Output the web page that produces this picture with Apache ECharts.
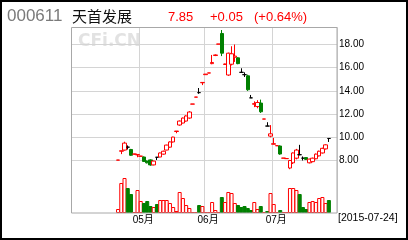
<!DOCTYPE html>
<html><head><meta charset="utf-8">
<script src="https://cdn.jsdelivr.net/npm/echarts@6/dist/echarts.min.js"></script>
<style>html,body{margin:0;padding:0;background:#fff}#c{width:408px;height:240px}</style>
</head><body><div id="c"></div>
<script>
// trading days shown on the axis (last two of July are empty padding slots)
const aprDays = [1,2,3,7,8,9,10,13,14,15,16,17,20,21,22,23,24,27,28,29,30];
const mayDays = [4,5,6,7,8,11,12,13,14,15,18,19,20,21,22,25,26,27,28,29];
const junDays = [1,2,3,4,5,8,9,10,11,12,15,16,17,18,19,23,24,25,26,29,30];
const julDays = [1,2,3,6,7,8,9,10,13,14,15,16,17,20,21,22,23,24,27,28];
const firstDataDate = '2015-04-22';

const openP = [8.03,8.80,8.90,9.15,8.95,8.55,8.48,8.36,8.30,7.95,
  8.05,7.62,8.28,8.30,8.55,8.90,9.15,9.60,10.50,11.06,
  11.23,11.40,11.66,12.86,13.46,13.85,14.70,15.40,15.54,16.35,
  17.05,18.03,18.95,16.28,15.37,16.30,16.90,16.85,15.60,15.40,
  15.30,13.40,12.85,12.65,12.95,11.57,10.97,10.10,9.40,9.27,
  9.25,8.20,8.16,7.35,7.80,8.20,8.50,8.20,8.25,7.80,
  7.90,8.15,8.40,8.65,9.00,9.90];
const closeP = [8.04,8.84,9.50,9.15,8.45,8.56,8.52,8.38,7.92,7.80,
  7.62,7.95,8.28,8.65,8.80,9.33,9.60,10.02,10.54,11.40,
  11.66,11.84,12.18,12.87,13.47,13.85,14.73,15.45,15.55,16.45,
  17.10,18.04,17.25,16.32,17.25,17.20,17.00,16.35,15.60,15.40,
  14.10,13.40,12.90,13.00,12.20,11.58,10.97,10.30,9.45,9.28,
  8.56,8.21,8.17,8.00,8.65,8.90,8.50,8.20,8.10,8.12,
  8.20,8.55,8.80,9.05,9.35,9.90];
const lowP = [8.03,8.55,8.85,8.95,8.40,8.50,8.28,8.34,7.88,7.75,
  7.55,7.58,8.04,8.28,8.50,8.88,9.10,9.55,10.35,11.00,
  11.20,11.35,11.60,12.86,13.46,13.75,14.50,15.40,15.54,16.30,
  17.00,18.03,17.00,16.25,15.30,16.20,16.50,16.30,15.60,15.20,
  14.00,13.40,12.60,12.50,12.10,11.57,10.97,10.00,9.38,9.27,
  8.50,8.20,8.16,7.25,7.70,8.10,8.45,8.00,8.05,7.75,
  7.85,8.10,8.35,8.60,8.95,9.60];
const highP = [8.04,8.84,9.62,9.30,9.00,8.58,8.52,8.40,8.35,8.00,
  8.10,7.98,8.30,8.68,8.85,9.36,9.65,10.05,10.54,11.45,
  11.70,11.90,12.25,12.87,13.47,14.25,14.73,15.45,15.55,17.10,
  17.15,18.04,19.25,16.35,17.30,17.85,18.00,16.90,15.95,15.60,
  15.40,13.65,13.10,13.20,13.25,11.58,11.30,11.05,9.95,9.28,
  9.30,8.21,8.17,8.05,8.70,9.00,9.35,8.35,8.28,8.15,
  8.25,8.60,8.85,9.10,9.40,9.90];
const volume = [4,30,35,25,19,1,23,12,10,12,
  7,6,9,13,13,13,10,6,2,21,
  15,8,5,1,1,8,7,1,1,11,
  3,1,16,11,21,20,10,8,6,7,
  5,3,11,4,7,1,2,20,9,1,
  3,1,1,25,25,23,19,6,4,11,
  12,11,15,16,10,13];

const priceTicks = [8,10,12,14,16,18];
const stockCode = '000611';
const stockName = '天首发展';
const lastPrice = '7.85';
const change = '+0.05';
const changePct = '(+0.64%)';
const dateTag = '[2015-07-24]';

const pad = n => String(n).padStart(2,'0');
const dates = [].concat(
  aprDays.map(d => '2015-04-' + pad(d)),
  mayDays.map(d => '2015-05-' + pad(d)),
  junDays.map(d => '2015-06-' + pad(d)),
  julDays.map(d => '2015-07-' + pad(d)));
const start = dates.indexOf(firstDataDate);
const isMonthStart = i => i > 0 && dates[i].slice(5,7) !== dates[i-1].slice(5,7);

const candleData = dates.map((d, i) => {
  const k = i - start;
  if (k < 0 || k >= openP.length) return '-';
  return [openP[k], closeP[k], lowP[k], highP[k]];
});
const volData = dates.map((d, i) => {
  const k = i - start;
  if (k < 0 || k >= volume.length) return '-';
  const up = closeP[k] > openP[k];
  return {value: volume[k], itemStyle: up
    ? {color:'#ffffff', borderColor:'#ff0000', borderWidth:1}
    : {color:'#008000', borderColor:'#008000', borderWidth:1}};
});

const FONT = '"Liberation Sans", "Noto Sans CJK SC", sans-serif';
const gridColor = '#d4d4d4';

const chart = echarts.init(document.getElementById('c'), null, {renderer:'canvas', width:408, height:240});
chart.setOption({
  animation: false,
  backgroundColor: '#ffffff',
  grid: [
    {left:71, top:27.1, width:266, height:156.6},
    {left:71, top:176, width:266, height:37}
  ],
  xAxis: [
    {type:'category', gridIndex:0, data:dates, boundaryGap:true,
     axisLine:{show:false}, axisTick:{show:false}, axisLabel:{show:false},
     splitLine:{show:true, interval:(i)=>isMonthStart(i), lineStyle:{color:gridColor, width:1}}},
    {type:'category', gridIndex:1, data:dates, boundaryGap:true,
     axisLine:{show:false}, axisTick:{show:false},
     axisLabel:{show:true, interval:(i)=>isMonthStart(i), formatter:v=>v.slice(5,7)+'月',
       fontSize:10, color:'#000', margin:2, fontFamily:FONT, padding:[0,0,0,5]},
     splitLine:{show:true, interval:(i)=>isMonthStart(i), lineStyle:{color:gridColor, width:1}}}
  ],
  yAxis: [
    {type:'value', gridIndex:0, position:'right', min:6, max:19.5, interval:2, scale:true,
     axisLine:{show:false}, axisTick:{show:false},
     axisLabel:{formatter:v=>priceTicks.includes(v)?v.toFixed(2):'', fontSize:10, color:'#000', margin:2, fontFamily:FONT},
     splitLine:{show:true, showMinLine:false, showMaxLine:false, lineStyle:{color:gridColor, width:1}}},
    {type:'value', gridIndex:1, min:0, max:37, show:false, splitLine:{show:false}}
  ],
  series: [
    {type:'candlestick', xAxisIndex:0, yAxisIndex:0, data:candleData, barWidth:4,
     itemStyle:{color:'#ffffff', color0:'#008000', borderColor:'#ff0000', borderColor0:'#008000', borderColorDoji:'#000000', borderWidth:1}},
    {type:'bar', xAxisIndex:1, yAxisIndex:1, data:volData, barWidth:4}
  ],
  graphic: [
    {type:'rect', z:-10, silent:true, shape:{x:1, y:1, width:406, height:238}, style:{fill:'none', stroke:'#000', lineWidth:2}},
    {type:'rect', z:100, silent:true, shape:{x:71.5, y:27.5, width:265.5, height:185.5}, style:{fill:'none', stroke:'#a8a8a8', lineWidth:1}},
    {type:'text', z:-5, silent:true, x:78, y:42, style:{text:'CFi.CN', fill:'#e2e2e2', font:'bold 17px "DejaVu Sans"', verticalAlign:'middle', textVerticalAlign:'middle'}},
    {type:'text', silent:true, x:7, y:16.5, style:{text:stockCode, fill:'#7a7a7a', font:'17px "Liberation Sans"', verticalAlign:'middle', textVerticalAlign:'middle'}},
    {type:'text', silent:true, x:72, y:16, style:{text:stockName, fill:'#111', font:'15px "Noto Sans CJK SC"', verticalAlign:'middle', textVerticalAlign:'middle'}},
    {type:'text', silent:true, x:168, y:17.5, style:{text:lastPrice, fill:'#ff0000', font:'13px "Liberation Sans"', verticalAlign:'middle', textVerticalAlign:'middle'}},
    {type:'text', silent:true, x:210, y:17.5, style:{text:change, fill:'#ff0000', font:'13px "Liberation Sans"', verticalAlign:'middle', textVerticalAlign:'middle'}},
    {type:'text', silent:true, x:254, y:17.5, style:{text:changePct, fill:'#ff0000', font:'13px "Liberation Sans"', verticalAlign:'middle', textVerticalAlign:'middle'}},
    {type:'text', silent:true, x:338, y:218.5, style:{text:dateTag, fill:'#000', font:'10.5px "Liberation Sans"', verticalAlign:'middle', textVerticalAlign:'middle'}}
  ]
});
</script></body></html>
